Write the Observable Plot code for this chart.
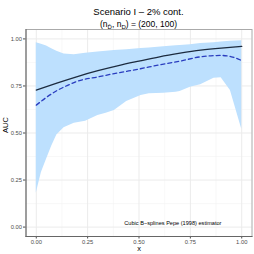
<!DOCTYPE html>
<html><head><meta charset="utf-8">
<script src="https://cdn.jsdelivr.net/npm/d3@7"></script>
<script src="https://cdn.jsdelivr.net/npm/@observablehq/plot@0.6"></script>
<style>
body{margin:0;background:#fff;font-family:"Liberation Sans",Arial,sans-serif;}
#head{width:254px;height:28px;box-sizing:border-box;padding-left:25.5px;padding-right:2.5px;text-align:center;color:#000;overflow:visible;}
#t1{font-size:9.5px;line-height:12px;padding-top:6px;}
#t2{font-size:8.5px;line-height:11px;padding-top:1px;}
#t2 sub{font-size:6px;vertical-align:-2px;line-height:0;}
</style></head><body>
<div id="head"><div id="t1">Scenario I – 2% cont.</div><div id="t2">(n<sub>D̄</sub>, n<sub>D</sub>) = (200, 100)</div></div>
<div id="chart"></div>
<script>
const bandX = [0, 0.025, 0.05, 0.075, 0.1, 0.135, 0.185, 0.24, 0.3, 0.34, 0.38, 0.44, 0.51, 0.55, 0.62, 0.68, 0.7, 0.75, 0.8, 0.865, 0.9, 0.945, 1.0];
const bandLo = [0.18, 0.29, 0.36, 0.43, 0.49, 0.528, 0.552, 0.563, 0.593, 0.605, 0.619, 0.668, 0.699, 0.708, 0.711, 0.716, 0.72, 0.743, 0.757, 0.791, 0.793, 0.726, 0.52];
const bandHi = [0.98, 0.972, 0.962, 0.948, 0.935, 0.92, 0.916, 0.924, 0.93, 0.934, 0.938, 0.943, 0.949, 0.952, 0.958, 0.963, 0.965, 0.969, 0.975, 0.980, 0.983, 0.987, 0.99];
const trueX = [0, 0.1, 0.2, 0.3, 0.4, 0.5, 0.6, 0.7, 0.8, 0.9, 1];
const trueAUC = [0.728, 0.765, 0.800, 0.831, 0.858, 0.882, 0.905, 0.924, 0.940, 0.951, 0.960];
const estX = [0, 0.05, 0.1, 0.15, 0.2, 0.3, 0.4, 0.5, 0.6, 0.7, 0.8, 0.85, 0.9, 0.95, 1];
const estAUC = [0.648, 0.69, 0.725, 0.752, 0.775, 0.798, 0.82, 0.84, 0.862, 0.882, 0.905, 0.91, 0.912, 0.905, 0.885];
const majorTicks = [0, 0.25, 0.5, 0.75, 1];
const minorTicks = [0.125, 0.375, 0.625, 0.875];
const note = "Cubic B−splines Pepe (1998) estimator";

const band = bandX.map((x, i) => ({x, lo: bandLo[i], hi: bandHi[i]}));
const tru = trueX.map((x, i) => ({x, y: trueAUC[i]}));
const est = estX.map((x, i) => ({x, y: estAUC[i]}));

const plot = Plot.plot({
  width: 254, height: 226,
  marginTop: 1, marginBottom: 18, marginLeft: 25.5, marginRight: 2.5,
  style: {fontFamily: "Liberation Sans, Arial, sans-serif", background: "#fff"},
  x: {domain: [-0.05, 1.05]},
  y: {domain: [-0.05, 1.05]},
  marks: [
    Plot.ruleX(minorTicks, {stroke: "#f4f4f4", strokeWidth: 0.6}),
    Plot.ruleY(minorTicks, {stroke: "#f4f4f4", strokeWidth: 0.6}),
    Plot.ruleX(majorTicks, {stroke: "#ebebeb", strokeWidth: 1}),
    Plot.ruleY(majorTicks, {stroke: "#ebebeb", strokeWidth: 1}),
    Plot.areaY(band, {x: "x", y1: "lo", y2: "hi", fill: "#bde0fe"}),
    Plot.line(tru, {x: "x", y: "y", stroke: "#1c2b3f", strokeWidth: 1.3, curve: "natural"}),
    Plot.line(est, {x: "x", y: "y", stroke: "#2a3dbf", strokeWidth: 1.3, strokeDasharray: "4,3", curve: "monotone-x"}),
    Plot.text([note], {x: 0.665, y: 0.02, fontSize: 5.6, fill: "#000"}),
    Plot.frame({stroke: "#aaaaaa", strokeWidth: 1}),
    Plot.axisY(majorTicks, {tickFormat: d3.format(".2f"), tickSize: 2.5, tickPadding: 1.5, fontSize: 5.8, color: "#4d4d4d", label: null}),
    Plot.axisX(majorTicks, {tickFormat: d3.format(".2f"), tickSize: 2.5, tickPadding: 0.5, fontSize: 5.8, color: "#4d4d4d", label: null}),
    Plot.frame({anchor: "left", stroke: "#666", strokeWidth: 1}),
    Plot.frame({anchor: "bottom", stroke: "#666", strokeWidth: 1}),
    Plot.text(["AUC"], {frameAnchor: "left", dx: -20, rotate: -90, fontSize: 7.5, fill: "#000"}),
    Plot.text(["x"], {frameAnchor: "bottom", dy: 14, fontSize: 7.5, fill: "#000"})
  ]
});
document.getElementById("chart").appendChild(plot);
</script>
</body></html>
